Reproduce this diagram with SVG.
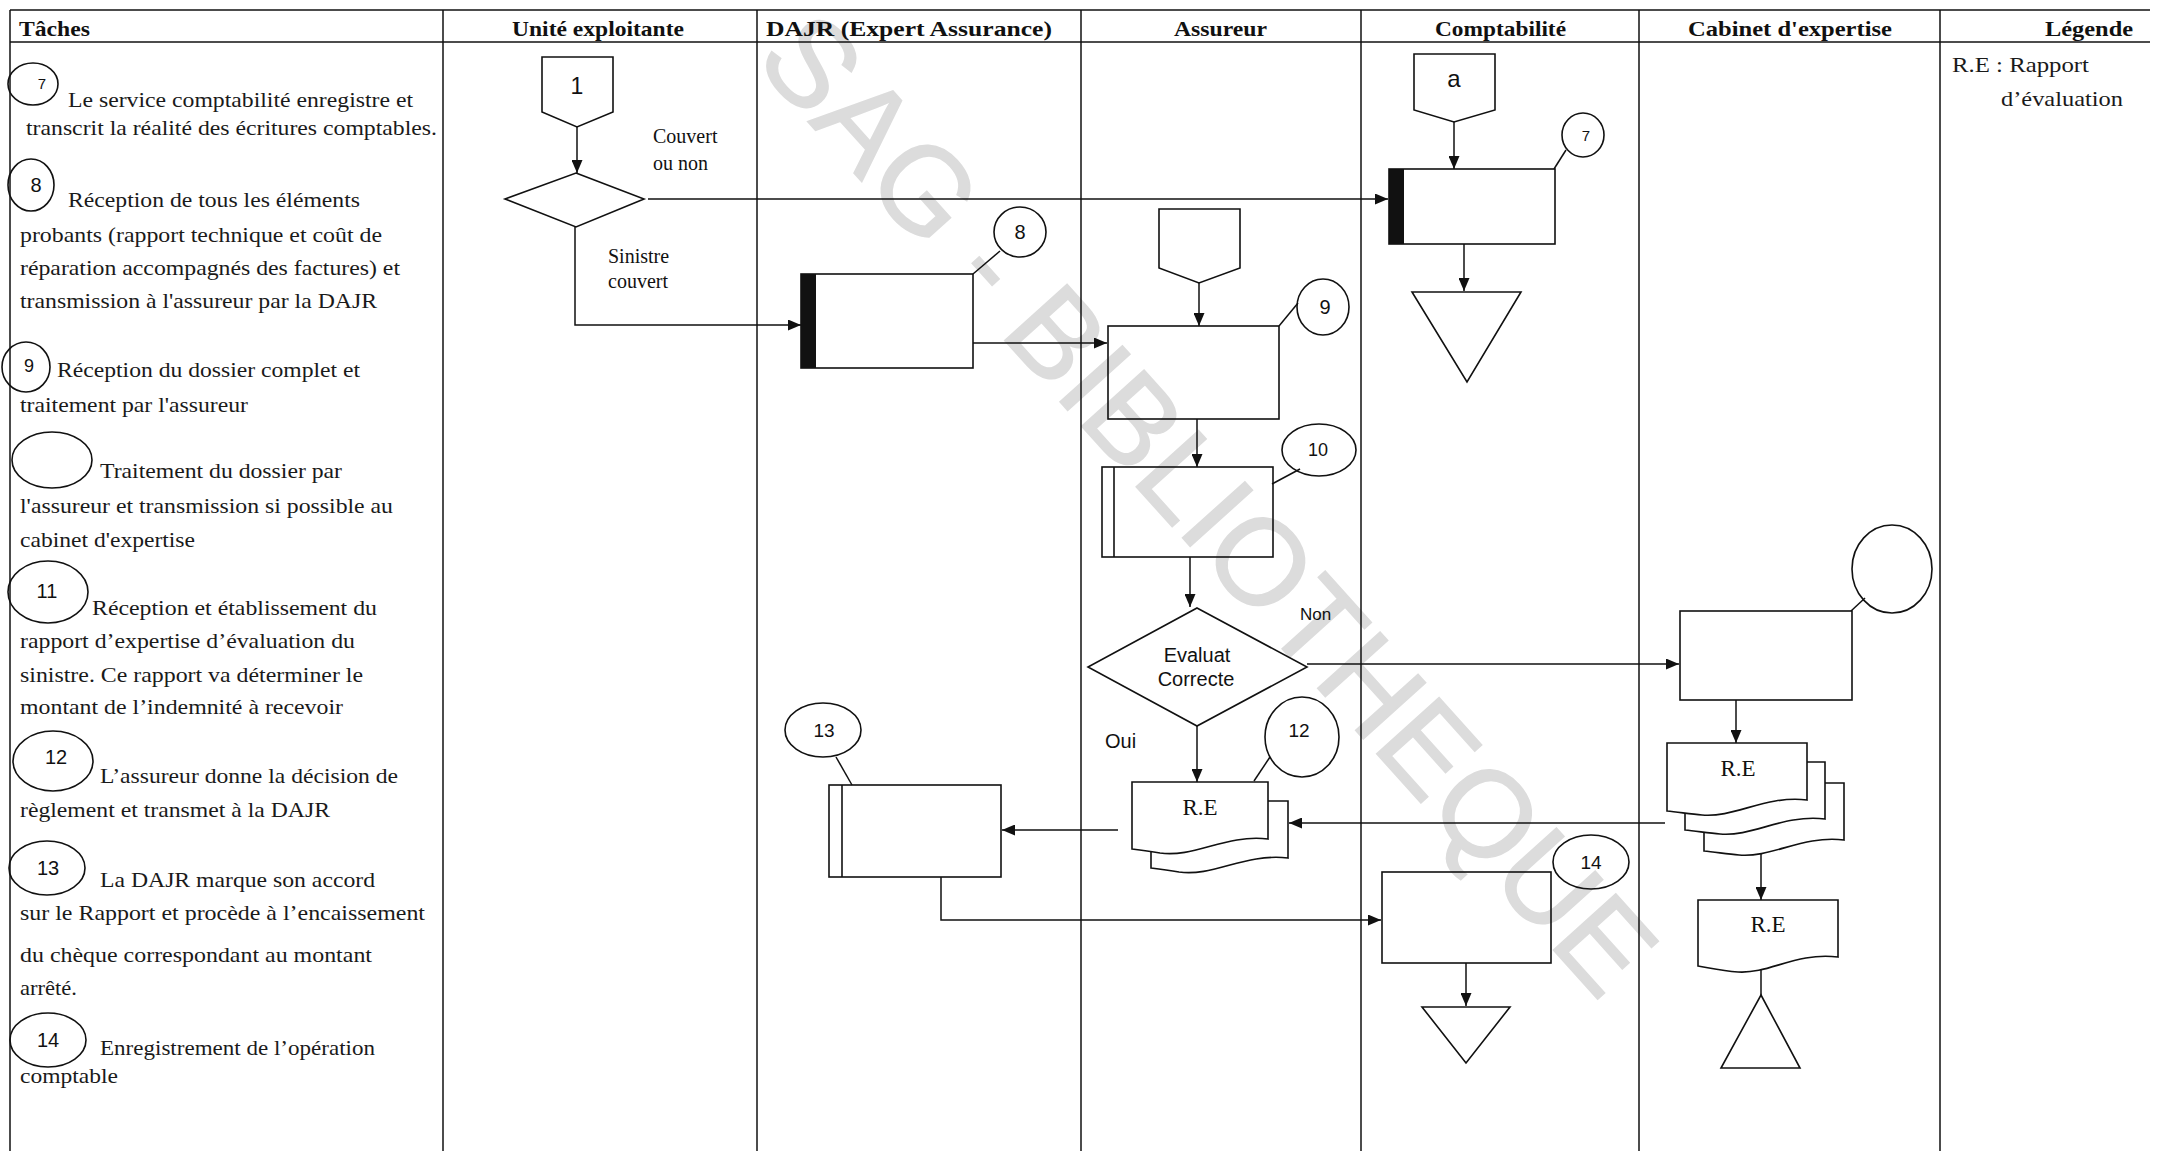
<svg xmlns="http://www.w3.org/2000/svg" width="2159" height="1151" viewBox="0 0 2159 1151">
<style>
.ln{stroke:#111;stroke-width:1.5;fill:none}
.sh{stroke:#111;stroke-width:1.6;fill:none}
.wf{stroke:#111;stroke-width:1.6;fill:#fff}
.bar{fill:#111}
.hd{font-family:"Liberation Serif","Times New Roman",serif;font-weight:bold;font-size:21px;fill:#111}
.tx{font-family:"Liberation Serif","Times New Roman",serif;font-size:21px;fill:#1a1a1a}
.lb{font-family:"Liberation Serif","Times New Roman",serif;font-size:20px;fill:#111}
.sn{font-family:"Liberation Sans",Arial,sans-serif;font-size:20px;fill:#111}
.n{font-family:"Liberation Sans",Arial,sans-serif;font-size:19px;fill:#111;text-anchor:middle}
.c{text-anchor:middle}
.wm{font-family:"Liberation Sans",Arial,sans-serif;font-size:122px;fill:#dcdcdc;stroke:#dcdcdc;stroke-width:1.5}
</style>
<defs>
<marker id="ah" viewBox="0 0 13 11" refX="13" refY="5.5" markerWidth="13" markerHeight="11" markerUnits="userSpaceOnUse" orient="auto"><path d="M0,0 L13,5.5 L0,11 z" fill="#111"/></marker>
</defs>
<rect x="0" y="0" width="2159" height="1151" fill="#fff"/>
<g id="watermark"><text class="wm" x="753" y="61" transform="rotate(48 753 61)">SAG - BIBLIOTHEQUE</text></g>
<g id="grid" class="ln">
<line x1="10" y1="10" x2="2150" y2="10"/>
<line x1="10" y1="42" x2="2150" y2="42"/>
<line x1="10" y1="10" x2="10" y2="1151"/>
<line x1="443" y1="10" x2="443" y2="1151"/>
<line x1="757" y1="10" x2="757" y2="1151"/>
<line x1="1081" y1="10" x2="1081" y2="1151"/>
<line x1="1361" y1="10" x2="1361" y2="1151"/>
<line x1="1639" y1="10" x2="1639" y2="1151"/>
<line x1="1940" y1="10" x2="1940" y2="1151"/>
</g>
<g id="headers">
<text class="hd" x="19" y="36" textLength="71" lengthAdjust="spacingAndGlyphs">Tâches</text>
<text class="hd" x="512" y="36" textLength="172" lengthAdjust="spacingAndGlyphs">Unité exploitante</text>
<text class="hd" x="766" y="36" textLength="286" lengthAdjust="spacingAndGlyphs">DAJR (Expert Assurance)</text>
<text class="hd" x="1174" y="36" textLength="93" lengthAdjust="spacingAndGlyphs">Assureur</text>
<text class="hd" x="1435" y="36" textLength="131" lengthAdjust="spacingAndGlyphs">Comptabilité</text>
<text class="hd" x="1688" y="36" textLength="204" lengthAdjust="spacingAndGlyphs">Cabinet d'expertise</text>
<text class="hd" x="2045" y="36" textLength="88" lengthAdjust="spacingAndGlyphs">Légende</text>
</g>
<g id="tasks">
<g id="task-7"><ellipse class="sh" cx="33" cy="84" rx="25" ry="21"/><text class="n" x="42" y="89" style="font-size:15px">7</text>
<text class="tx" x="68" y="107" textLength="345" lengthAdjust="spacingAndGlyphs">Le service comptabilité enregistre et</text>
<text class="tx" x="26" y="135" textLength="411" lengthAdjust="spacingAndGlyphs">transcrit la réalité des écritures comptables.</text></g>
<g id="task-8"><ellipse class="sh" cx="31" cy="185" rx="23" ry="26"/><text class="n" x="36" y="192" style="font-size:20px">8</text>
<text class="tx" x="68" y="207" textLength="292" lengthAdjust="spacingAndGlyphs">Réception de tous les éléments</text>
<text class="tx" x="20" y="242" textLength="362" lengthAdjust="spacingAndGlyphs">probants (rapport technique et coût de</text>
<text class="tx" x="20" y="275" textLength="380" lengthAdjust="spacingAndGlyphs">réparation accompagnés des factures) et</text>
<text class="tx" x="20" y="308" textLength="357" lengthAdjust="spacingAndGlyphs">transmission à l'assureur par la DAJR</text></g>
<g id="task-9"><ellipse class="sh" cx="26" cy="367" rx="24" ry="25"/><text class="n" x="29" y="372" style="font-size:18px">9</text>
<text class="tx" x="57" y="377" textLength="303" lengthAdjust="spacingAndGlyphs">Réception du dossier complet et</text>
<text class="tx" x="20" y="412" textLength="228" lengthAdjust="spacingAndGlyphs">traitement par l'assureur</text></g>
<g id="task-10"><ellipse class="sh" cx="52" cy="460" rx="40" ry="28"/>
<text class="tx" x="100" y="478" textLength="242" lengthAdjust="spacingAndGlyphs">Traitement du dossier par</text>
<text class="tx" x="20" y="513" textLength="373" lengthAdjust="spacingAndGlyphs">l'assureur et transmission si possible au</text>
<text class="tx" x="20" y="547" textLength="175" lengthAdjust="spacingAndGlyphs">cabinet d'expertise</text></g>
<g id="task-11"><ellipse class="sh" cx="48" cy="592" rx="40" ry="31"/><text class="n" x="47" y="598" style="font-size:20px">11</text>
<text class="tx" x="92" y="615" textLength="285" lengthAdjust="spacingAndGlyphs">Réception et établissement du</text>
<text class="tx" x="20" y="648" textLength="335" lengthAdjust="spacingAndGlyphs">rapport d’expertise d’évaluation du</text>
<text class="tx" x="20" y="682" textLength="343" lengthAdjust="spacingAndGlyphs">sinistre. Ce rapport va déterminer le</text>
<text class="tx" x="20" y="714" textLength="323" lengthAdjust="spacingAndGlyphs">montant de l’indemnité à recevoir</text></g>
<g id="task-12"><ellipse class="sh" cx="53" cy="761" rx="40" ry="30"/><text class="n" x="56" y="764" style="font-size:20px">12</text>
<text class="tx" x="100" y="783" textLength="298" lengthAdjust="spacingAndGlyphs">L’assureur donne la décision de</text>
<text class="tx" x="20" y="817" textLength="310" lengthAdjust="spacingAndGlyphs">règlement et transmet à la DAJR</text></g>
<g id="task-13"><ellipse class="sh" cx="47" cy="868" rx="38" ry="27"/><text class="n" x="48" y="875" style="font-size:20px">13</text>
<text class="tx" x="100" y="887" textLength="275" lengthAdjust="spacingAndGlyphs">La DAJR marque son accord</text>
<text class="tx" x="20" y="920" textLength="405" lengthAdjust="spacingAndGlyphs">sur le Rapport et procède à l’encaissement</text>
<text class="tx" x="20" y="962" textLength="352" lengthAdjust="spacingAndGlyphs">du chèque correspondant au montant</text>
<text class="tx" x="20" y="995" textLength="57" lengthAdjust="spacingAndGlyphs">arrêté.</text></g>
<g id="task-14"><ellipse class="sh" cx="48" cy="1040" rx="38" ry="27"/><text class="n" x="48" y="1047" style="font-size:20px">14</text>
<text class="tx" x="100" y="1055" textLength="275" lengthAdjust="spacingAndGlyphs">Enregistrement de l’opération</text>
<text class="tx" x="20" y="1083" textLength="98" lengthAdjust="spacingAndGlyphs">comptable</text></g>
</g>
<g id="legend">
<text class="tx" x="1952" y="72" textLength="137" lengthAdjust="spacingAndGlyphs">R.E : Rapport</text>
<text class="tx" x="2001" y="106" textLength="122" lengthAdjust="spacingAndGlyphs">d’évaluation</text>
</g>
<g id="connectors">
<line class="ln" x1="577" y1="127" x2="577" y2="173" marker-end="url(#ah)"/>
<line class="ln" x1="648" y1="199" x2="1388" y2="199" marker-end="url(#ah)"/>
<polyline class="ln" points="575,227 575,325 801,325" marker-end="url(#ah)"/>
<line class="ln" x1="973" y1="343" x2="1107" y2="343" marker-end="url(#ah)"/>
<line class="ln" x1="1454" y1="122" x2="1454" y2="169" marker-end="url(#ah)"/>
<line class="ln" x1="1464" y1="244" x2="1464" y2="291" marker-end="url(#ah)"/>
<line class="ln" x1="1199" y1="283" x2="1199" y2="326" marker-end="url(#ah)"/>
<line class="ln" x1="1197" y1="419" x2="1197" y2="467" marker-end="url(#ah)"/>
<line class="ln" x1="1190" y1="557" x2="1190" y2="607" marker-end="url(#ah)"/>
<line class="ln" x1="1307" y1="664" x2="1679" y2="664" marker-end="url(#ah)"/>
<line class="ln" x1="1197" y1="726" x2="1197" y2="782" marker-end="url(#ah)"/>
<line class="ln" x1="1736" y1="700" x2="1736" y2="743" marker-end="url(#ah)"/>
<line class="ln" x1="1665" y1="823" x2="1289" y2="823" marker-end="url(#ah)"/>
<line class="ln" x1="1118" y1="830" x2="1002" y2="830" marker-end="url(#ah)"/>
<polyline class="ln" points="941,877 941,920 1381,920" marker-end="url(#ah)"/>
<line class="ln" x1="1466" y1="963" x2="1466" y2="1006" marker-end="url(#ah)"/>
<line class="ln" x1="1761" y1="853" x2="1761" y2="900" marker-end="url(#ah)"/>
<line class="ln" x1="1761" y1="969" x2="1761" y2="995"/>
<line class="ln" x1="973" y1="274" x2="1000" y2="251"/>
<line class="ln" x1="1554" y1="169" x2="1566" y2="150"/>
<line class="ln" x1="1279" y1="326" x2="1298" y2="303"/>
<line class="ln" x1="1272" y1="484" x2="1300" y2="469"/>
<line class="ln" x1="1851" y1="611" x2="1865" y2="598"/>
<line class="ln" x1="1254" y1="781" x2="1270" y2="757"/>
<line class="ln" x1="836" y1="757" x2="852" y2="785"/>
</g>
<g id="conn-1"><polygon class="sh" points="542,57 613,57 613,112 577,127 542,112"/><text class="sn c" x="577" y="94" style="font-size:23px">1</text></g>
<g id="dec-couvert"><polygon class="sh" points="576,173 644,199 576,227 505,199"/>
<text class="lb" x="653" y="143">Couvert</text><text class="lb" x="653" y="170">ou non</text>
<text class="lb" x="608" y="263">Sinistre</text><text class="lb" x="608" y="288">couvert</text></g>
<g id="proc-8"><rect class="sh" x="801" y="274" width="172" height="94"/><rect class="bar" x="801" y="274" width="15" height="94"/></g>
<g id="num-8"><ellipse class="sh" cx="1020" cy="232" rx="26" ry="25"/><text class="n" x="1020" y="239" style="font-size:20px">8</text></g>
<g id="conn-assureur"><polygon class="sh" points="1159,209 1240,209 1240,268 1199,283 1159,268"/></g>
<g id="proc-9"><rect class="sh" x="1108" y="326" width="171" height="93"/></g>
<g id="num-9"><ellipse class="sh" cx="1323" cy="307" rx="26" ry="28"/><text class="n" x="1325" y="314" style="font-size:20px">9</text></g>
<g id="proc-10"><rect class="sh" x="1102" y="467" width="171" height="90"/><line class="sh" x1="1114" y1="467" x2="1114" y2="557"/></g>
<g id="num-10"><ellipse class="sh" cx="1319" cy="450" rx="37" ry="26"/><text class="n" x="1318" y="456" style="font-size:18px">10</text></g>
<g id="dec-evaluat"><polygon class="sh" points="1197,608 1307,667 1197,726 1088,667"/>
<text class="sn c" x="1197" y="662" style="font-size:20px">Evaluat</text><text class="sn c" x="1196" y="686" style="font-size:20px">Correcte</text>
<text class="sn" x="1300" y="620" style="font-size:17px">Non</text><text class="sn" x="1105" y="748">Oui</text></g>
<g id="doc-12"><path class="wf" d="M1151,801 H1288 V858 C1244,853 1214,877 1179,872 C1167,870 1159,869 1151,868 Z"/>
<path class="wf" d="M1132,782 H1268 V839 C1225,834 1195,858 1160,853 C1148,851 1140,850 1132,849 Z"/>
<text class="lb c" x="1200" y="815" style="font-size:23px">R.E</text></g>
<g id="num-12"><ellipse class="sh" cx="1302" cy="737" rx="37" ry="40"/><text class="n" x="1299" y="737">12</text></g>
<g id="proc-13"><rect class="sh" x="829" y="785" width="172" height="92"/><line class="sh" x1="842" y1="785" x2="842" y2="877"/></g>
<g id="num-13"><ellipse class="sh" cx="823" cy="730" rx="38" ry="27"/><text class="n" x="824" y="737">13</text></g>
<g id="conn-a"><polygon class="sh" points="1414,54 1495,54 1495,110 1454,122 1414,110"/><text class="sn c" x="1454" y="87" style="font-size:24px">a</text></g>
<g id="proc-7"><rect class="sh" x="1389" y="169" width="166" height="75"/><rect class="bar" x="1389" y="169" width="15" height="75"/></g>
<g id="num-7"><ellipse class="sh" cx="1583" cy="135" rx="21" ry="22"/><text class="n" x="1586" y="141" style="font-size:15px">7</text></g>
<g id="file-7"><polygon class="sh" points="1412,292 1521,292 1467,382"/></g>
<g id="proc-14"><rect class="sh" x="1382" y="872" width="169" height="91"/></g>
<g id="num-14"><ellipse class="sh" cx="1591" cy="862" rx="38" ry="27"/><text class="n" x="1591" y="869">14</text></g>
<g id="file-14"><polygon class="sh" points="1422,1007 1510,1007 1466,1063"/></g>
<g id="proc-11"><rect class="sh" x="1680" y="611" width="172" height="89"/></g>
<g id="num-11"><ellipse class="sh" cx="1892" cy="569" rx="40" ry="44"/></g>
<g id="doc-stack-re">
<path class="wf" d="M1704,783 H1844 V840 C1802,835 1772,858 1739,855 C1727,854 1715,852 1704,851 Z"/>
<path class="wf" d="M1685,762 H1825 V819 C1783,814 1753,837 1720,834 C1708,833 1696,831 1685,830 Z"/>
<path class="wf" d="M1667,743 H1807 V800 C1765,795 1735,818 1702,815 C1690,814 1678,812 1667,811 Z"/>
<text class="lb c" x="1738" y="776" style="font-size:23px">R.E</text></g>
<g id="doc-re"><path class="wf" d="M1698,900 H1838 V957 C1795,952 1770,974 1738,972 C1722,971 1710,968 1698,966 Z"/>
<text class="lb c" x="1768" y="932" style="font-size:23px">R.E</text></g>
<g id="archive-re"><polygon class="sh" points="1761,995 1800,1068 1721,1068"/></g>
</svg>
